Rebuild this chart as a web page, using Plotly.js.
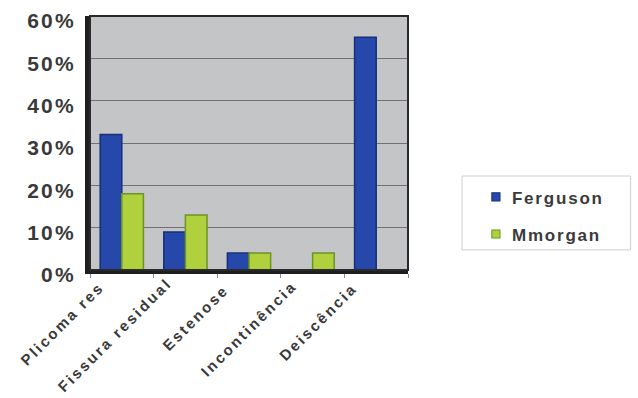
<!DOCTYPE html>
<html>
<head>
<meta charset="utf-8">
<script src="https://cdn.plot.ly/plotly-3.0.1.min.js"></script>
<style>
  html, body { margin: 0; padding: 0; background: #ffffff; }
  #chart { width: 638px; height: 398px; }
  /* wide, Excel-like lettering */
  #chart .ytick text { letter-spacing: 2.2px; }
  #chart .annotation-text { letter-spacing: 2.4px; }
  #chart .legendtext { letter-spacing: 1.8px; }
  #chart .legend .scrollbox { clip-path: none; }
  /* small square legend swatches */
  #chart .legendpoints path { transform: translate(24px, 0) scale(0.68); }
</style>
</head>
<body>
<div id="chart"></div>
<script>
// Complication categories and the share of cases per technique
const categories = ["Plicoma res", "Fissura residual", "Estenose", "Incontinência", "Deiscência"];
const ferguson = [0.32, 0.09, 0.04, 0.00, 0.55];
const mmorgan = [0.18, 0.13, 0.04, 0.04, 0.00];
const yTicks = [0, 0.1, 0.2, 0.3, 0.4, 0.5, 0.6];
const yTickText = ["0%", "10%", "20%", "30%", "40%", "50%", "60%"];

const FONT = "Liberation Sans, Arial, sans-serif";

const traces = [
  {
    type: "bar", name: "Ferguson", x: categories, y: ferguson, legendgroup: "f",
    marker: { color: "#2748ab", line: { color: "#172f7a", width: 1.5 } }
  },
  {
    type: "bar", name: "Mmorgan", x: categories, y: mmorgan, legendgroup: "m",
    marker: { color: "#b0d03e", line: { color: "#6a9424", width: 1.5 } }
  }
];

// Rotated category labels hung below the floor of the plot
const categoryLabels = categories.map(c => ({
  x: c, y: 0, xref: "x", yref: "y",
  text: c, showarrow: false, textangle: -45,
  xanchor: "right", yanchor: "top", xshift: -21, yshift: -15,
  font: { size: 15, family: FONT, weight: "bold", color: "#3a3a3a" }
}));

const layout = {
  width: 638, height: 398,
  margin: { l: 90, r: 230, t: 16, b: 128 },
  paper_bgcolor: "#ffffff",
  plot_bgcolor: "#c4c5c7",
  barmode: "group",
  bargap: 0.32,
  bargroupgap: 0,
  font: { family: FONT, color: "#333333" },
  xaxis: {
    range: [-0.5, categories.length - 0.5],
    showticklabels: false,
    showline: true, linecolor: "#1e1e1e", linewidth: 4,
    ticks: "outside", ticklen: 4, tickcolor: "#8a8a8a", tickson: "boundaries",
    showgrid: false, fixedrange: true
  },
  yaxis: {
    range: [0, 0.6],
    tickvals: yTicks, ticktext: yTickText,
    tickfont: { size: 21, family: FONT, weight: "bold", color: "#3a3a3a" },
    showline: true, linecolor: "#1e1e1e", linewidth: 5,
    showgrid: true, gridcolor: "#727274", gridwidth: 1,
    ticks: "", ticklabelstandoff: 5, ticklabelshift: 5,
    zeroline: false, fixedrange: true
  },
  annotations: categoryLabels,
  shapes: [
    {
      type: "rect", xref: "paper", yref: "paper", x0: 0, x1: 1, y0: 0, y1: 1,
      line: { color: "#2a2a2a", width: 2 }
    },
    {
      // legend frame
      type: "rect", xref: "paper", yref: "paper",
      x0: 1.17, x1: 1.70, y0: 0.079, y1: 0.37,
      line: { color: "#cfcfcf", width: 1 }, fillcolor: "rgba(0,0,0,0)"
    }
  ],
  legend: {
    x: 1.201, y: 0.357, xanchor: "left", yanchor: "top",
    bgcolor: "rgba(0,0,0,0)", borderwidth: 0,
    font: { size: 17, family: FONT, weight: "bold", color: "#3a3a3a" },
    tracegroupgap: 12, itemwidth: 30
  },
  showlegend: true
};

Plotly.newPlot("chart", traces, layout, { displayModeBar: false, staticPlot: true });
</script>
</body>
</html>
